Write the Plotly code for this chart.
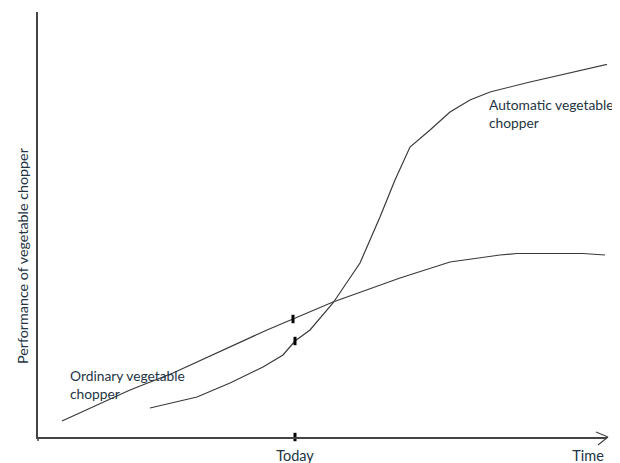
import plotly.graph_objects as go

# Units: horizontal "time" and vertical "performance"
ordinary_time = [24, 92, 135, 229, 255, 295, 362, 412, 462, 479, 545, 567]
ordinary_perf = [16, 47, 64, 107, 118, 135, 159, 175, 182, 183.5, 183.5, 182]

automatic_time = [112, 159, 192, 225, 245, 257, 272, 295, 322, 342, 357, 372, 392, 412, 432, 452, 492, 575]
automatic_perf = [29, 40, 54, 70, 82, 96, 107, 134, 174, 220, 257, 290, 307, 325, 337, 345, 355, 374]

today_time = 257
dot_time = [255, 257]
dot_perf = [118, 96]

tick_vals = [257, 550]
tick_text = ["Today", "Time"]

x_max = 569
y_max = 425

text_color = "#243444"
line_color = "#3a3a3a"
axis_color = "#444"
font_family = "Lato, 'Open Sans', sans-serif"

fig = go.Figure()
fig.add_trace(go.Scatter(x=ordinary_time, y=ordinary_perf, mode="lines",
                         line=dict(color=line_color, width=1.2), hoverinfo="skip"))
fig.add_trace(go.Scatter(x=automatic_time, y=automatic_perf, mode="lines",
                         line=dict(color=line_color, width=1.2), hoverinfo="skip"))
fig.add_trace(go.Scatter(x=dot_time + [today_time], y=dot_perf + [0], mode="markers",
                         marker=dict(symbol="line-ns", size=6,
                                     line=dict(color="black", width=3)),
                         cliponaxis=False, hoverinfo="skip"))

# open arrow head at the end of the time axis (paper coords, unclipped)
px_x = 1 / x_max
px_y = 1 / y_max
tip_x = 1 + 1 * px_x
fig.add_shape(type="line", xref="paper", yref="paper",
              x0=tip_x - 12 * px_x, y0=5 * px_y, x1=tip_x, y1=0,
              line=dict(color=axis_color, width=1.2))
fig.add_shape(type="line", xref="paper", yref="paper",
              x0=tip_x - 10 * px_x, y0=-8 * px_y, x1=tip_x, y1=0,
              line=dict(color=axis_color, width=1.2))
# small extension of the vertical axis below the time axis
fig.add_shape(type="line", xref="paper", yref="paper",
              x0=0, y0=0, x1=0, y1=-4 * px_y,
              line=dict(color=axis_color, width=1.5))

fig.add_annotation(x=449, y=324, xanchor="left", yanchor="middle", showarrow=False,
                   align="left", text="Automatic vegetable<br>chopper",
                   font=dict(family=font_family, size=13.8, color=text_color))
fig.add_annotation(x=30, y=53, xanchor="left", yanchor="middle", showarrow=False,
                   align="left", text="Ordinary vegetable<br>chopper",
                   font=dict(family=font_family, size=13.8, color=text_color))
fig.add_annotation(xref="paper", yref="y", x=-16 / x_max, y=181,
                   xanchor="center", yanchor="middle", showarrow=False,
                   textangle=-90, text="Performance of vegetable chopper",
                   font=dict(family=font_family, size=14.3, color=text_color))

# the page body adds an 8px offset, so the figure is sized to the visible area
fig.update_layout(
    width=612, height=455,
    margin=dict(l=30, r=13, t=4, b=26),
    paper_bgcolor="white", plot_bgcolor="white",
    showlegend=False,
    xaxis=dict(range=[0, x_max], showgrid=False, zeroline=False, automargin=False,
               showline=True, linecolor=axis_color, linewidth=1.5,
               tickvals=tick_vals, ticktext=tick_text, ticks="",
               ticklabelstandoff=5,
               tickfont=dict(family=font_family, size=14.5, color=text_color)),
    yaxis=dict(range=[0, y_max], showgrid=False, zeroline=False, automargin=False,
               showline=True, linecolor=axis_color, linewidth=1.5,
               showticklabels=False, ticks=""),
)

fig.write_html("out.html")
